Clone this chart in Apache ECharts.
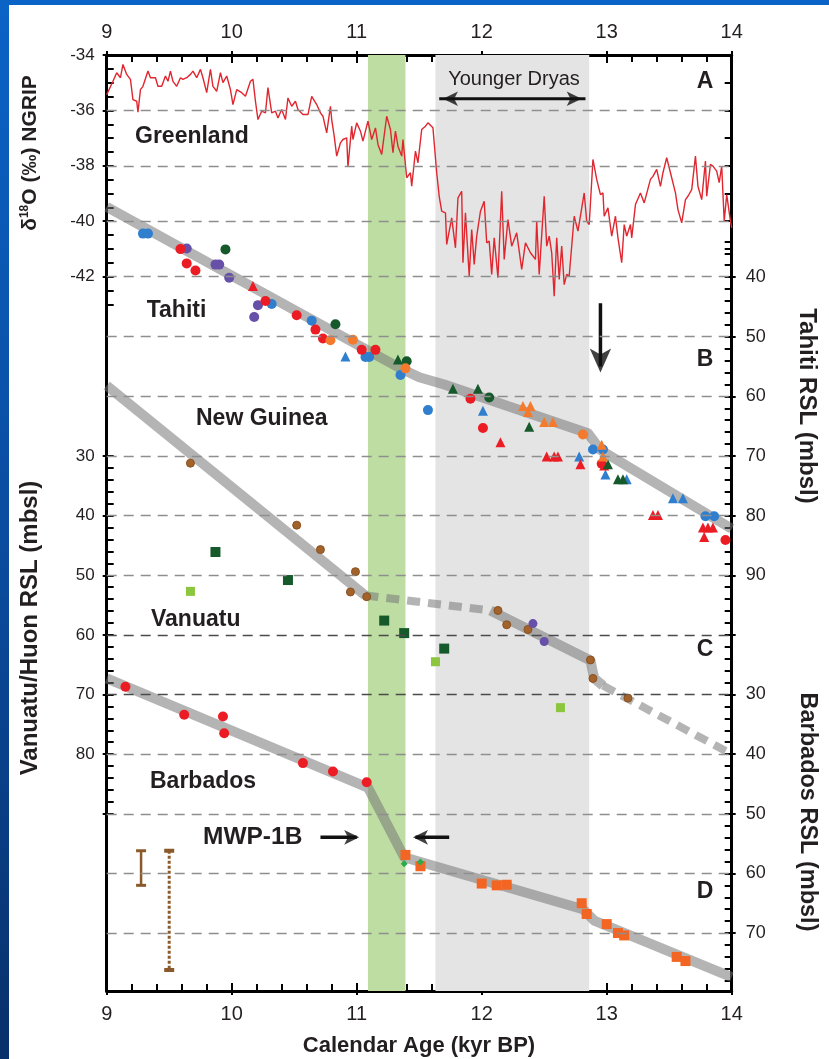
<!DOCTYPE html>
<html>
<head>
<meta charset="utf-8">
<script src="https://cdn.jsdelivr.net/npm/echarts@6.0.0/dist/echarts.min.js"></script>
<style>
  html, body { margin: 0; padding: 0; background: #fff; }
  #chart { width: 829px; height: 1059px; }
</style>
</head>
<body>
<div id="chart"></div>
<script>
// ---------------- data ----------------
// NGRIP oxygen-isotope record: [age kyr BP, δ18O ‰]
const ngrip = [
  [9.00,-35.43],[9.05,-34.95],[9.08,-34.64],[9.11,-34.82],[9.13,-34.34],[9.16,-34.70],[9.19,-34.88],[9.21,-35.61],
  [9.24,-35.67],[9.25,-36.06],[9.27,-35.25],[9.29,-35.13],[9.33,-34.58],[9.35,-34.82],[9.39,-34.82],[9.41,-35.13],
  [9.44,-35.13],[9.47,-34.76],[9.49,-34.95],[9.51,-34.58],[9.53,-34.95],[9.56,-35.13],[9.59,-34.82],[9.61,-34.88],
  [9.64,-34.82],[9.67,-34.70],[9.69,-34.58],[9.72,-34.82],[9.75,-34.52],[9.77,-34.82],[9.80,-35.36],[9.83,-34.52],
  [9.85,-35.13],[9.88,-35.31],[9.91,-34.64],[9.93,-35.00],[9.96,-34.76],[9.99,-35.25],[10.01,-35.79],[10.04,-35.25],
  [10.08,-35.36],[10.11,-35.49],[10.15,-34.95],[10.17,-34.88],[10.19,-35.67],[10.21,-36.33],[10.24,-36.03],[10.27,-36.09],
  [10.29,-35.18],[10.32,-36.09],[10.35,-36.03],[10.37,-36.27],[10.40,-35.97],[10.43,-36.33],[10.45,-35.55],[10.48,-35.85],
  [10.51,-35.67],[10.53,-35.97],[10.57,-36.15],[10.61,-36.15],[10.64,-35.49],[10.68,-35.79],[10.71,-36.09],[10.73,-36.21],
  [10.76,-36.81],[10.79,-35.85],[10.80,-36.33],[10.82,-36.93],[10.84,-37.65],[10.87,-37.17],[10.89,-37.05],[10.92,-36.99],
  [10.93,-38.04],[10.96,-36.57],[10.97,-37.05],[11.00,-36.45],[11.03,-36.75],[11.05,-37.11],[11.09,-36.39],[11.12,-37.05],
  [11.15,-36.63],[11.17,-37.23],[11.20,-37.59],[11.24,-36.21],[11.27,-36.69],[11.29,-37.53],[11.31,-36.75],[11.33,-37.29],
  [11.36,-37.65],[11.37,-37.05],[11.40,-38.43],[11.43,-38.25],[11.44,-38.74],[11.47,-37.47],[11.49,-37.89],[11.52,-36.69],
  [11.55,-36.57],[11.57,-36.45],[11.61,-36.63],[11.64,-38.25],[11.66,-39.10],[11.68,-39.64],[11.71,-39.70],[11.72,-40.84],
  [11.76,-39.88],[11.79,-40.96],[11.81,-39.16],[11.84,-38.92],[11.85,-41.50],[11.87,-39.70],[11.90,-41.98],[11.92,-40.30],
  [11.94,-41.56],[11.96,-40.54],[11.99,-39.64],[12.02,-39.28],[12.04,-40.78],[12.06,-40.72],[12.08,-41.92],[12.10,-40.60],
  [12.13,-42.04],[12.16,-38.92],[12.18,-41.38],[12.21,-39.94],[12.24,-40.90],[12.28,-40.42],[12.32,-41.74],[12.35,-40.78],
  [12.39,-41.14],[12.43,-41.38],[12.44,-40.00],[12.46,-41.92],[12.50,-39.10],[12.52,-40.90],[12.54,-40.54],[12.56,-41.14],
  [12.58,-42.71],[12.60,-40.60],[12.62,-42.10],[12.64,-40.90],[12.66,-42.29],[12.68,-41.92],[12.70,-41.98],[12.74,-39.82],
  [12.77,-40.36],[12.82,-38.98],[12.84,-40.00],[12.86,-40.12],[12.89,-37.77],[12.92,-38.49],[12.95,-39.04],[12.97,-38.98],
  [12.98,-39.82],[13.01,-39.52],[13.04,-40.54],[13.07,-39.82],[13.09,-40.60],[13.12,-41.50],[13.14,-40.12],[13.16,-40.54],
  [13.19,-40.12],[13.20,-40.60],[13.23,-39.40],[13.27,-38.98],[13.30,-39.34],[13.35,-38.49],[13.37,-38.38],[13.40,-38.13],
  [13.43,-38.74],[13.45,-38.25],[13.48,-37.71],[13.51,-38.25],[13.55,-38.98],[13.57,-39.58],[13.60,-40.06],[13.63,-39.22],
  [13.65,-39.10],[13.68,-38.86],[13.71,-37.65],[13.73,-38.74],[13.76,-39.22],[13.79,-37.83],[13.80,-39.10],[13.83,-37.95],
  [13.85,-38.01],[13.88,-38.19],[13.90,-38.61],[13.92,-38.01],[13.94,-40.00],[13.96,-39.04],[13.99,-40.00],[14.00,-40.24]
];

// Tahiti relative sea level, m below sea level
const tahitiRedCircle = [[9.59,35.3],[9.64,37.7],[9.71,38.9],[10.27,44.0],[10.52,46.4],[10.67,48.8],[10.73,50.3],[11.04,52.2],[11.15,52.2],[11.91,60.4],[12.01,65.3],[12.96,71.3],[13.95,84.1]];
const tahitiRedTriangle = [[10.17,41.5],[12.15,67.7],[12.52,70.1],[12.58,70.1],[12.61,70.1],[12.79,71.4],[12.98,71.6],[13.37,79.9],[13.41,79.9],[13.77,82.0],[13.81,82.0],[13.85,82.0],[13.78,83.6]];
const tahitiBlueCircle = [[9.29,32.7],[9.33,32.7],[10.32,44.5],[10.64,47.3],[11.07,53.4],[11.10,53.4],[11.35,56.4],[11.57,62.3],[12.89,68.9],[12.97,68.9],[13.79,80.1],[13.86,80.1]];
const tahitiBlueTriangle = [[10.91,53.3],[12.01,62.4],[12.78,70.1],[12.99,73.1],[13.16,73.9],[13.53,77.1],[13.61,77.1]];
const tahitiPurpleCircle = [[9.64,35.2],[9.87,37.9],[9.90,37.9],[9.98,40.1],[10.21,44.7],[10.18,46.7]];
const tahitiGreenCircle = [[9.95,35.35],[10.83,47.9],[11.40,54.1],[12.06,60.2]];
const tahitiGreenTriangle = [[11.33,53.8],[11.77,58.7],[11.97,58.7],[12.38,65.1],[13.01,71.4],[13.09,73.9],[13.13,73.9]];
const tahitiOrangeCircle = [[10.79,50.6],[10.97,50.5],[11.39,55.3],[12.81,66.4]];
const tahitiOrangeTriangle = [[12.33,61.6],[12.39,61.6],[12.37,62.6],[12.50,64.3],[12.57,64.3],[12.96,68.1],[12.97,70.1]];
const tahitiTrend = [[9.00,28.2],[11.35,55.3],[11.50,56.8],[11.70,58.0],[12.85,66.2],[12.95,69.0],[14.00,82.2]];

// Huon Peninsula (New Guinea) and Vanuatu, m below sea level
const huonCircle = [[9.67,31.2],[10.52,41.6],[10.71,45.7],[10.99,49.4],[10.95,52.8],[11.08,53.6],[12.13,55.9],[12.20,58.3],[12.37,59.1],[12.87,64.2],[12.89,67.3],[13.17,70.6]];
const huonPurple = [[12.41,58.1],[12.50,61.1]];
const vanuatuDark = [[9.87,46.1],[10.45,50.8],[11.22,57.6],[11.38,59.7],[11.70,62.3]];
const vanuatuLight = [[9.67,52.7],[11.63,64.5],[12.63,72.2]];
const huonTrendA = [[9.00,18.2],[11.07,53.4]];
const huonGapA = [[11.07,53.4],[12.07,55.9]];
const huonTrendB = [[12.07,55.9],[12.87,64.3],[12.90,67.3],[12.97,68.5]];
const huonGapB = [[12.97,68.5],[14.00,80.0]];

// Barbados, m below sea level
const barbadosRed = [[9.15,28.7],[9.62,33.4],[9.93,33.7],[9.94,36.5],[10.57,41.5],[10.81,42.9],[11.08,44.7]];
const barbadosOrange = [[11.39,56.9],[11.51,58.8],[12.00,61.7],[12.12,62.0],[12.20,61.9],[12.80,65.0],[12.84,66.8],[13.00,68.5],[13.09,70.0],[13.14,70.4],[13.56,74.0],[13.63,74.7]];
const barbadosGreen = [[11.38,58.4],[11.51,58.1]];
const barbadosTrend = [[9.00,27.3],[11.09,45.6],[11.38,57.3],[12.81,66.0],[12.90,67.9],[14.00,77.4]];
const errBarShort = [[9.275,56.2],[9.275,62.0]];
const errBarLong = [[9.50,56.2],[9.50,76.2]];

// periods, kyr BP
const mwp1b = [11.09, 11.39];
const youngerDryas = [11.63, 12.86];

// annotation arrows: shaft [from, to] and head position
const ydShaft = [[11.66, -35.58], [12.83, -35.58]];
const ydHeads = [[11.69, -35.58], [12.80, -35.58]];
const onsetShaft = [[12.95, 44.4], [12.95, 55.0]];
const onsetHead = [[12.95, 56.0]];
const mwpShaftL = [[10.71, 53.95], [11.00, 53.95]];
const mwpShaftR = [[11.74, 53.95], [11.47, 53.95]];
const mwpHeadL = [[11.02, 53.95]];
const mwpHeadR = [[11.45, 53.95]];

// tick labels
const ageTicks = [9, 10, 11, 12, 13, 14];
const d18oTicks = [-34, -36, -38, -40, -42];
const tahitiTicks = [40, 50, 60, 70, 80, 90];
const huonTicks = [30, 40, 50, 60, 70, 80];
const barbadosTicks = [30, 40, 50, 60, 70];

// ---------------- layout ----------------
const FONT = '"Liberation Sans", Arial, Helvetica, sans-serif';
const INK = '#231f20';
const TREND = 'rgba(118,118,118,0.55)';
const GRID = { left: 106.7, top: 55, width: 625, height: 936 };
// shared vertical scale of the stacked panels (all y axes span the full plot height)
const D18O_RANGE = [-67.79, -34];
const TAHITI_RANGE = [2.75, 159.72];
const HUON_RANGE = [-37.25, 119.72];
const BARB_RANGE = [-77.25, 79.72];

function steps(a, b, s) {
  const out = [];
  for (let v = a; v <= b + 1e-9; v += s) out.push(+v.toFixed(3));
  return out;
}

const tickLine = { color: '#000', width: 2 };
function yAx(position, range, inverse, extra) {
  return Object.assign({
    type: 'value', position, min: range[0], max: range[1], inverse: !!inverse,
    axisLine: { show: false, onZero: false },
    splitLine: { show: false },
    axisLabel: { show: false },
    axisTick: { show: false }
  }, extra);
}
function labelled(values, margin, size) {
  return { show: true, customValues: values, fontSize: size, color: INK, margin, fontFamily: FONT };
}
function ticksOut(values) {
  return { show: true, customValues: values, length: 4, lineStyle: tickLine };
}
function ticksIn(values) {
  return { show: true, inside: true, customValues: values, length: 7, lineStyle: tickLine };
}
const frameLine = { show: true, onZero: false, lineStyle: { color: '#000', width: 3 } };

const yAxes = [
  /*0*/ yAx('left', D18O_RANGE, false, { axisLine: frameLine, axisLabel: labelled(d18oTicks, 12, 17), axisTick: ticksOut(d18oTicks) }),
  /*1*/ yAx('left', D18O_RANGE, false, { axisTick: ticksIn(steps(-43, -34, 0.5)) }),
  /*2*/ yAx('left', HUON_RANGE, true, { axisLabel: labelled(huonTicks, 12, 17), axisTick: ticksOut(steps(30, 90, 10)) }),
  /*3*/ yAx('left', HUON_RANGE, true, { axisTick: ticksIn(steps(30, 90, 2)) }),
  /*4*/ yAx('right', TAHITI_RANGE, true, { axisLine: frameLine, axisLabel: labelled(tahitiTicks, 14, 18), axisTick: ticksOut(steps(40, 100, 10)) }),
  /*5*/ yAx('right', TAHITI_RANGE, true, { axisTick: ticksIn(steps(34, 100, 2)) }),
  /*6*/ yAx('right', BARB_RANGE, true, { axisLabel: labelled(barbadosTicks, 14, 18), axisTick: ticksOut(steps(20, 70, 10)) }),
  /*7*/ yAx('right', BARB_RANGE, true, { axisTick: ticksIn(steps(20, 78, 2)) }),
  /*8*/ yAx('right', D18O_RANGE, false, { axisTick: ticksIn(steps(-41, -34, 1)) })
];
const Y = { d18o: 0, huon: 2, tahiti: 4, barb: 6 };

function xAx(position, main) {
  return {
    type: 'value', position, min: 9, max: 14, interval: 1,
    axisLine: main ? { show: true, onZero: false, lineStyle: { color: '#000', width: 3 } } : { show: false, onZero: false },
    axisLabel: main ? { show: true, customValues: ageTicks, fontSize: 20, color: INK, margin: 13, fontFamily: FONT } : { show: false },
    axisTick: main ? { show: true, inside: true, length: 8, lineStyle: tickLine } : { show: true, inside: false, length: 4, lineStyle: tickLine },
    minorTick: main ? { show: true, splitNumber: 5, length: 7, lineStyle: tickLine } : { show: false },
    splitLine: { show: false }
  };
}

// ---------------- series ----------------
function gridLines(axis, values, color) {
  return {
    type: 'line', data: [], yAxisIndex: axis, z: 1, silent: true,
    markLine: {
      silent: true, symbol: 'none', label: { show: false }, animation: false,
      lineStyle: { color, width: 1.3, type: [10, 7] },
      data: values.map(v => ({ yAxis: v }))
    }
  };
}
function trend(axis, data, dashed) {
  return {
    type: 'line', yAxisIndex: axis, data, symbol: 'none', z: 2, silent: true,
    lineStyle: dashed ? { color: TREND, width: 8, type: [13, 8], cap: 'butt' }
                      : { color: TREND, width: 10, cap: 'butt', join: 'round' }
  };
}
function dots(axis, data, symbol, size, color, border) {
  return {
    type: 'scatter', yAxisIndex: axis, data, symbol, symbolSize: size, z: 3, silent: true,
    itemStyle: { color, opacity: 1, borderColor: border || color, borderWidth: border ? 1 : 0 }
  };
}
function shaft(axis, data, width) {
  return {
    type: 'line', yAxisIndex: axis, data, symbol: 'none', z: 4, silent: true,
    lineStyle: { color: '#111', width, cap: 'butt' }
  };
}
// arrow heads: rotation in degrees (0 = pointing up, 90 = left, -90 = right, 180 = down)
function heads(axis, data, rotate, size) {
  return {
    type: 'scatter', yAxisIndex: axis, z: 5, silent: true, symbol: 'arrow', symbolSize: size,
    itemStyle: { color: '#111' },
    data: data.map((p, i) => ({ value: p, symbolRotate: Array.isArray(rotate) ? rotate[i] : rotate }))
  };
}

const RED = '#ec1c24', BLUE = '#2f7fce', PURPLE = '#6750a8', DKGREEN = '#16592b',
      ORANGE = '#f47a2e', BROWN = '#a2622c', LTGREEN = '#8cc63e', SQORANGE = '#f26522';

const series = [
  {
    type: 'line', data: [], yAxisIndex: Y.d18o, z: 0, silent: true,
    markArea: {
      silent: true,
      data: [
        [{ xAxis: mwp1b[0], itemStyle: { color: '#bedda3' } }, { xAxis: mwp1b[1] }],
        [{ xAxis: youngerDryas[0], itemStyle: { color: '#e4e4e4' } }, { xAxis: youngerDryas[1] }]
      ]
    }
  },
  gridLines(Y.d18o, [-36, -38, -40, -42], '#8e8e8e'),
  gridLines(Y.tahiti, [50, 60, 70, 80, 90], '#8e8e8e'),
  gridLines(Y.huon, [60, 70], '#4a4a4a'),
  gridLines(Y.huon, [80], '#8e8e8e'),
  gridLines(Y.barb, [50, 60, 70], '#8e8e8e'),

  {
    type: 'line', yAxisIndex: Y.d18o, data: ngrip, symbol: 'none', z: 2, silent: true,
    lineStyle: { color: '#e0262e', width: 1.4 }
  },

  trend(Y.tahiti, tahitiTrend, false),
  trend(Y.huon, huonTrendA, false),
  trend(Y.huon, huonGapA, true),
  trend(Y.huon, huonTrendB, false),
  trend(Y.huon, huonGapB, true),
  trend(Y.barb, barbadosTrend, false),

  dots(Y.tahiti, tahitiBlueCircle, 'circle', 10, BLUE),
  dots(Y.tahiti, tahitiPurpleCircle, 'circle', 10, PURPLE),
  dots(Y.tahiti, tahitiRedCircle, 'circle', 10, RED),
  dots(Y.tahiti, tahitiGreenCircle, 'circle', 10, DKGREEN),
  dots(Y.tahiti, tahitiOrangeCircle, 'circle', 10, ORANGE),
  dots(Y.tahiti, tahitiBlueTriangle, 'triangle', 10, BLUE),
  dots(Y.tahiti, tahitiRedTriangle, 'triangle', 10, RED),
  dots(Y.tahiti, tahitiGreenTriangle, 'triangle', 10, DKGREEN),
  dots(Y.tahiti, tahitiOrangeTriangle, 'triangle', 10, ORANGE),

  dots(Y.huon, vanuatuDark, 'rect', 10, DKGREEN),
  dots(Y.huon, vanuatuLight, 'rect', 9, LTGREEN),
  dots(Y.huon, huonCircle, 'circle', 8, BROWN, '#8a5020'),
  dots(Y.huon, huonPurple, 'circle', 9, PURPLE),

  dots(Y.barb, barbadosRed, 'circle', 10, RED),
  dots(Y.barb, barbadosOrange, 'rect', 10, SQORANGE),
  dots(Y.barb, barbadosGreen, 'diamond', 7, '#2bab4a'),

  {
    type: 'line', yAxisIndex: Y.barb, data: errBarShort, symbol: 'rect', symbolSize: [10, 3], z: 3, silent: true,
    itemStyle: { color: '#8b5a2b' }, lineStyle: { color: '#8b5a2b', width: 2.5 }
  },
  {
    type: 'line', yAxisIndex: Y.barb, data: errBarLong, symbol: 'rect', symbolSize: [10, 4], z: 3, silent: true,
    itemStyle: { color: '#8b5a2b' }, lineStyle: { color: '#8b5a2b', width: 3, type: [3, 2] }
  },

  // Younger Dryas span
  shaft(Y.d18o, ydShaft, 3),
  heads(Y.d18o, ydHeads, [90, -90], [11, 15]),
  // onset marker in the Tahiti record
  shaft(Y.tahiti, onsetShaft, 3.5),
  heads(Y.tahiti, onsetHead, 180, [16, 24]),
  // MWP-1B brackets
  shaft(Y.barb, mwpShaftL, 3.5),
  shaft(Y.barb, mwpShaftR, 3.5),
  heads(Y.barb, mwpHeadL, -90, [11, 15]),
  heads(Y.barb, mwpHeadR, 90, [11, 15])
];

// ---------------- annotations ----------------
function label(text, x, y, size, opts) {
  return Object.assign({
    type: 'text', x, y, z: 100, silent: true,
    style: Object.assign({ text, fill: INK, font: `bold ${size}px ${FONT}`, align: 'left', verticalAlign: 'middle' }, (opts && opts.style) || {})
  }, opts && opts.el);
}

const graphic = [
  { type: 'rect', shape: { x: 0, y: 0, width: 829, height: 5 }, style: { fill: '#0a64c8' }, z: -10, silent: true },
  { type: 'rect', shape: { x: 0, y: 0, width: 9, height: 1059 }, z: -10, silent: true,
    style: { fill: new echarts.graphic.LinearGradient(0, 0, 0, 1, [{ offset: 0, color: '#0b63c6' }, { offset: 0.55, color: '#0a4a9c' }, { offset: 1, color: '#08306a' }]) } },

  label('Greenland', 135, 136.7, 23),
  label('Tahiti', 146.7, 310.7, 23),
  label('New Guinea', 196, 418.3, 23),
  label('Vanuatu', 151, 619.3, 23),
  label('Barbados', 150, 781.7, 23),
  label('MWP-1B', 203, 837.3, 24.5),
  label('Younger Dryas', 514, 79.3, 20, { style: { font: `20px ${FONT}`, align: 'center' } }),
  label('A', 705, 81.7, 23, { style: { align: 'center' } }),
  label('B', 705, 360, 23, { style: { align: 'center' } }),
  label('C', 705, 650, 23, { style: { align: 'center' } }),
  label('D', 705, 891.7, 23, { style: { align: 'center' } }),

  label('Calendar Age (kyr BP)', 419, 1046, 22, { style: { align: 'center' } }),
  {
    type: 'text', x: 30, y: 153, rotation: Math.PI / 2, z: 100, silent: true,
    style: {
      text: '{a|δ}{s|18}{a|O (‰) NGRIP}', align: 'center', verticalAlign: 'middle', fill: INK,
      rich: {
        a: { font: `bold 21px ${FONT}`, fill: INK },
        s: { font: `bold 12px ${FONT}`, fill: INK, padding: [0, 0, 10, 0] }
      }
    }
  },
  label('Vanuatu/Huon RSL (mbsl)', 30, 628, 24, { style: { align: 'center' }, el: { rotation: Math.PI / 2 } }),
  label('Tahiti RSL (mbsl)', 807, 406, 24, { style: { align: 'center' }, el: { rotation: -Math.PI / 2 } }),
  label('Barbados RSL (mbsl)', 807, 812, 23.5, { style: { align: 'center' }, el: { rotation: -Math.PI / 2 } })
];

const chart = echarts.init(document.getElementById('chart'), null, { renderer: 'canvas' });
chart.setOption({
  backgroundColor: '#ffffff',
  animation: false,
  grid: GRID,
  xAxis: [xAx('bottom', true), xAx('top', true), xAx('bottom', false), xAx('top', false)],
  yAxis: yAxes,
  series,
  graphic
});
</script>
</body>
</html>
